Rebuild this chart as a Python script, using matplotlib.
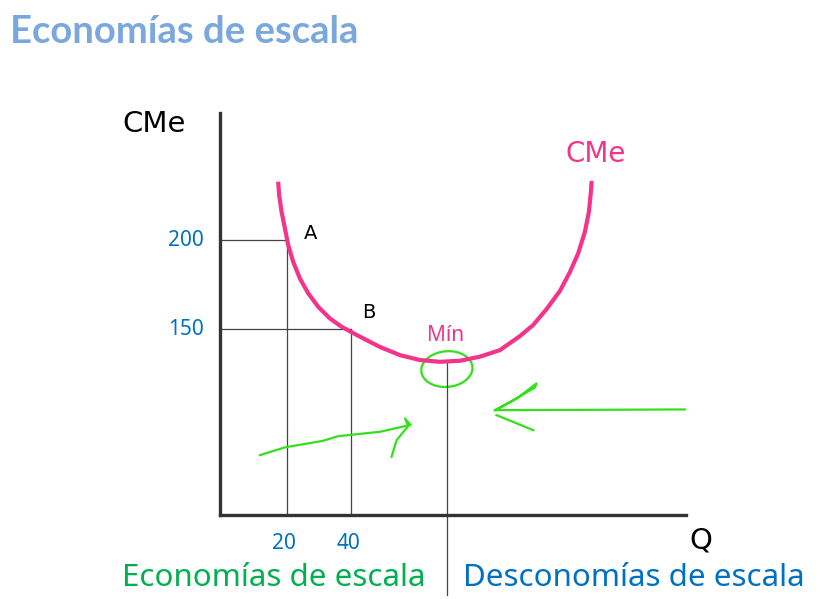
import matplotlib.pyplot as plt
from matplotlib.patches import Ellipse

# average cost curve (CMe): Q vs CMe
q_curve = [17.28, 17.59, 18.34, 19.38, 20.41, 21.97, 24.06, 26.66, 29.78, 33.44,
           37.09, 41.88, 49.06, 55.31, 61.56, 67.81, 74.06, 80.31, 86.56, 92.81,
           96.97, 101.16, 105.31, 108.44, 111.03, 113.13, 114.38, 115.0, 115.22]
cme_curve = [233.2, 225.7, 216.3, 206.9, 197.5, 188.0, 178.6, 170.2, 162.6, 156.0,
             151.3, 146.6, 139.9, 135.3, 132.5, 131.5, 132.1, 134.4, 138.1, 146.0,
             152.3, 161.3, 171.5, 182.2, 192.8, 205.0, 216.3, 227.6, 233.6]

# points A and B, and the minimum
pt_names = ['A', 'B']
pt_q = [20, 40]
pt_cme = [200, 150]
q_min = 70
cme_min = 131.5

x_ticks = [20, 40]
y_ticks = [200, 150]

# hand drawn green marks (in data units)
left_arrow_q = [11.6, 19.4, 31.3, 36.0, 49.1, 58.4]
left_arrow_c = [78.8, 83.2, 86.9, 89.5, 92.0, 95.8]
left_barb_q = [52.7, 54.3, 57.9, 56.9, 58.6]
left_barb_c = [77.9, 87.3, 95.2, 99.5, 96.0]
right_arrow_q = [144.4, 85.0]
right_arrow_c = [104.6, 104.2]
right_barb_up_q = [85.0, 92.0, 98.0, 97.5, 90.0, 85.5]
right_barb_up_c = [104.2, 111.0, 119.3, 117.0, 109.0, 104.5]
right_barb_lo_q = [85.5, 97.0]
right_barb_lo_c = [101.4, 92.9]

pink = '#f5338a'
green = '#33e01a'
blue = '#0070c0'

fig = plt.figure(figsize=(8.38, 5.99), dpi=100)
ax = fig.add_axes([0.2625, 0.1402, 0.5561, 0.6712])
ax.set_xlim(-0.9, 144.7)
ax.set_ylim(45, 272)

for s in ['top', 'right']:
    ax.spines[s].set_visible(False)
for s in ['left', 'bottom']:
    ax.spines[s].set_linewidth(2.4)
    ax.spines[s].set_color('#333333')
ax.set_xticks([])
ax.set_yticks([])

# guide lines to A and B
for q, c in zip(pt_q, pt_cme):
    ax.plot([-0.9, q], [c, c], color='#444444', lw=0.9)
    ax.plot([q, q], [45, c], color='#444444', lw=0.9)
ax.plot([q_min, q_min], [cme_min, -0.3], color='#444444', lw=0.9, clip_on=False)

ax.plot(q_curve, cme_curve, color=pink, lw=3, solid_capstyle='butt',
        solid_joinstyle='round')

# point labels, each placed up and right of its point
ax.text(pt_q[0] + 7.5, pt_cme[0] + 4, pt_names[0], fontsize=14, color='black',
        ha='center', va='center', family='DejaVu Sans')
ax.text(pt_q[1] + 5.5, pt_cme[1] + 9.5, pt_names[1], fontsize=14, color='black',
        ha='center', va='center', family='DejaVu Sans')
ax.text(q_min - 0.5, cme_min + 15, 'Mín', fontsize=15, color=pink, ha='center',
        va='center', family='Noto Sans')
ax.text(116.5, 249, 'CMe', fontsize=20, color=pink, ha='center', va='center',
        family='DejaVu Sans')

# tick labels
for c in y_ticks:
    ax.text(-11.5, c, str(c), fontsize=15, color=blue, ha='center', va='center',
            family='Noto Sans')
for q in x_ticks:
    ax.text(q - 0.8, 29, str(q), fontsize=15, color=blue, ha='center', va='center',
            family='Noto Sans', clip_on=False)

# green sketch marks
ax.plot(left_arrow_q, left_arrow_c, color=green, lw=1.6)
ax.plot(left_barb_q, left_barb_c, color=green, lw=1.6)
ax.plot(right_arrow_q, right_arrow_c, color=green, lw=1.6)
ax.plot(right_barb_up_q, right_barb_up_c, color=green, lw=1.6)
ax.plot(right_barb_lo_q, right_barb_lo_c, color=green, lw=1.6)
ax.add_patch(Ellipse((q_min, 127.4), 15.9, 20.3, angle=-8, fill=False,
                     edgecolor=green, lw=1.6))

# axis names
fig.text(154 / 838, 1 - 124 / 599, 'CMe', fontsize=21, color='black',
         ha='center', va='center', family='DejaVu Sans')
fig.text(701 / 838, 1 - 541 / 599, 'Q', fontsize=21, color='black',
         ha='center', va='center', family='DejaVu Sans')

# bottom labels
fig.text(122 / 838, 1 - 578 / 599, 'Economías de escala', fontsize=22.5,
         color='#00b050', ha='left', va='center', family='Noto Sans')
fig.text(463 / 838, 1 - 578 / 599, 'Desconomías de escala', fontsize=22.5,
         color=blue, ha='left', va='center', family='Noto Sans')

fig.text(10 / 838, 1 - 32 / 599, 'Economías de escala', fontsize=27.5,
         color='#79a7de', fontweight='bold', ha='left', va='center', family='Lato')

fig.savefig('out.png', dpi=100)
